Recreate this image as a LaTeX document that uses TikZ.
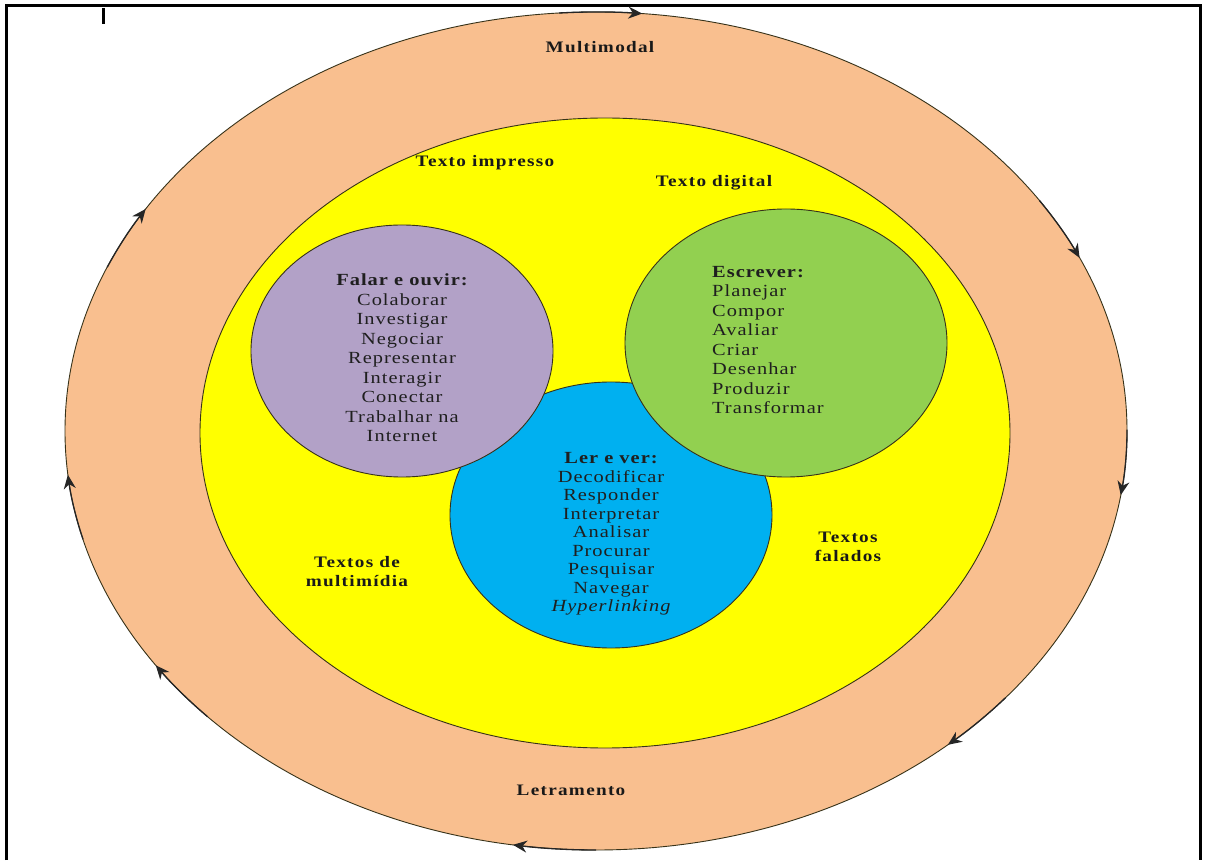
\documentclass[tikz,border=0pt]{standalone}
\usepackage{fontspec}
\setmainfont{Liberation Serif}
\newfontfamily\dfont[FakeStretch=1.2,LetterSpace=6]{Liberation Serif}
\newfontfamily\lfont[FakeStretch=1.2,LetterSpace=8]{Liberation Serif}
\usetikzlibrary{arrows.meta}
\definecolor{orangeC}{RGB}{249,191,143}
\definecolor{yel}{RGB}{255,255,0}
\definecolor{purp}{RGB}{178,161,199}
\definecolor{grn}{RGB}{146,208,80}
\definecolor{blu}{RGB}{0,176,240}
\definecolor{edge}{RGB}{55,50,25}
\begin{document}
\begin{tikzpicture}[x=1pt,y=1pt,
  lbl/.style={font=\lfont\bfseries\fontsize{16}{19}\selectfont, text=black!90, align=center, inner sep=0},
  lst/.style={font=\dfont\fontsize{17}{19.5}\selectfont, text=black!88, inner sep=0},
  ring/.style={draw=edge, line width=0.9pt},
  cyc/.style={-{Stealth[length=14pt,width=12pt]}, line width=1.3pt, draw=black!85}]
\useasboundingbox (0,0) rectangle (1206,860);
\fill[white] (0,0) rectangle (1206,860);
% frame
\draw[line width=3pt] (6,0) -- (6,854) -- (1200,854) -- (1200,0);
\draw[line width=3pt] (103,852) -- (103,836);
% outer ring
\coordinate (C) at (596,429);
\path[ring, fill=orangeC] (C) ellipse [x radius=531pt, y radius=419pt];
\foreach \t in {85,24.4,-8.8,-48.5,-99,-146,-174,148}{
  \draw[cyc] ([shift={({\t+9}:531pt and 419pt)}]C) arc[start angle=\t+9, end angle=\t, x radius=531pt, y radius=419pt];
}
% yellow
\coordinate (Y) at (605,427);
\path[ring, fill=yel] (Y) ellipse [x radius=405pt, y radius=315pt];
% circles
\coordinate (B) at (611,345);
\coordinate (P) at (402,509);
\coordinate (G) at (786,517);
\path[ring, fill=blu] (B) ellipse [x radius=161pt, y radius=133pt];
\path[ring, fill=purp] (P) ellipse [x radius=151pt, y radius=126pt];
\path[ring, fill=grn] (G) ellipse [x radius=161pt, y radius=134pt];
% labels
\node[lbl] (multi) at (600,813) {Multimodal};
\node[lbl] (letra) at (571,70) {Letramento};
\node[lbl] (impr) at (485,697) {Texto impresso};
\node[lbl] (digi) at (714,677) {Texto digital};
\node[lbl] (mm) at (357,288) {Textos de\\multimídia};
\node[lbl] (fal) at (848,313) {Textos\\falados};
% lists
\node[lst, align=center] (falar) at (402,502) {{\bfseries Falar e ouvir:}\\Colaborar\\Investigar\\Negociar\\Representar\\Interagir\\Conectar\\Trabalhar na\\Internet};
\node[lst, align=left, anchor=west] (escr) at (712,520) {{\bfseries Escrever:}\\Planejar\\Compor\\Avaliar\\Criar\\Desenhar\\Produzir\\Transformar};
\node[lst, align=center, font=\dfont\fontsize{17}{18.5}\selectfont] (ler) at (611,326) {{\bfseries Ler e ver:}\\Decodificar\\Responder\\Interpretar\\Analisar\\Procurar\\Pesquisar\\Navegar\\{\itshape Hyperlinking}};
\end{tikzpicture}
\end{document}
